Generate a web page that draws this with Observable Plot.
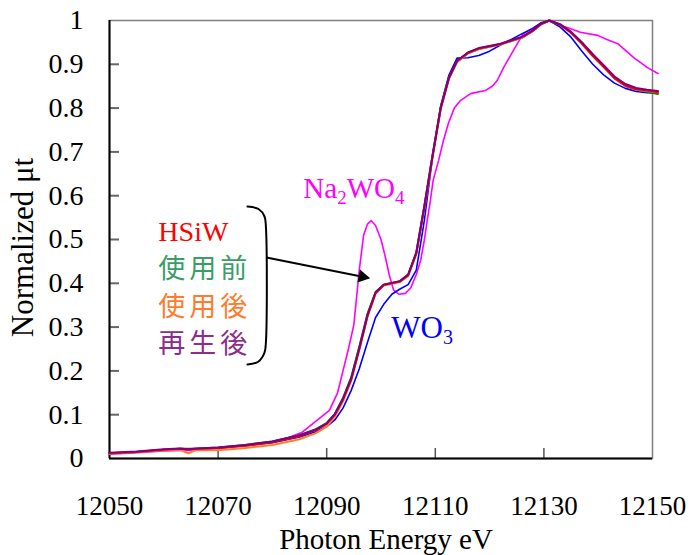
<!DOCTYPE html>
<html><head><meta charset="utf-8">
<script src="https://cdn.jsdelivr.net/npm/d3@7"></script>
<script src="https://cdn.jsdelivr.net/npm/@observablehq/plot@0.6"></script>
<style>
body{margin:0;background:#fff;}
</style></head><body><div id="chart"></div>
<script>
// Shared energy grid (eV) for the four HSiW samples and WO3
const energy = [12050,12055,12060,12063,12064.5,12066,12070,12075,12080,12085,12088,12090,12091.5,12093,12094.5,12096,12097.5,12099,12100.5,12102,12103.5,12105,12106.5,12108,12109.5,12111,12112.5,12114,12116,12118,12120,12122,12124,12126,12128,12129.5,12131,12133,12135,12137,12139,12141,12143,12145,12147,12149,12151];
const hsiw   = [.012,.015,.02,.022,.021,.022,.024,.029,.037,.051,.065,.079,.1,.135,.18,.25,.325,.378,.396,.4,.404,.418,.468,.575,.69,.8,.868,.907,.926,.936,.941,.946,.954,.962,.977,.992,1.0,.99,.972,.947,.919,.894,.868,.851,.843,.84,.836];
const before = [.012,.015,.02,.022,.022,.022,.025,.031,.039,.053,.067,.081,.102,.138,.185,.255,.33,.38,.397,.401,.405,.42,.47,.578,.693,.802,.869,.906,.925,.935,.94,.946,.953,.961,.976,.992,1.0,.991,.974,.95,.922,.896,.869,.851,.842,.837,.832];
const after  = [.011,.014,.018,.02,.012,.019,.019,.024,.031,.044,.058,.073,.095,.13,.177,.247,.323,.376,.395,.399,.403,.417,.466,.572,.687,.797,.866,.905,.925,.935,.94,.945,.953,.961,.976,.991,1.0,.99,.972,.948,.92,.895,.868,.852,.842,.839,.836];
const regen  = [.013,.016,.021,.023,.021,.023,.025,.031,.039,.053,.066,.08,.101,.136,.182,.252,.327,.379,.397,.401,.405,.42,.47,.577,.692,.801,.869,.908,.927,.937,.942,.947,.955,.963,.978,.993,1.0,.991,.974,.95,.923,.898,.872,.855,.846,.842,.839];
const wo3    = [.012,.015,.019,.021,.021,.021,.024,.029,.036,.049,.061,.073,.088,.115,.155,.205,.265,.322,.352,.375,.387,.397,.43,.545,.69,.805,.875,.914,.915,.92,.93,.944,.957,.97,.982,.995,1.0,.985,.962,.93,.9,.876,.857,.845,.838,.835,.834];
// Na2WO4 reference
const naEnergy = [12050,12055,12060,12065,12070,12075,12080,12083,12085.5,12087.5,12089,12090.5,12092,12093,12094,12095,12096,12096.8,12097.5,12098.2,12099,12100,12100.8,12101.5,12102.3,12103.3,12104.5,12105.5,12106.5,12107.3,12108,12108.5,12109.1,12109.6,12110.6,12111.5,12112.4,12113.5,12114.6,12116.5,12119.2,12120.5,12121.4,12122.6,12124.4,12126.2,12128.8,12130.8,12132.5,12134.3,12136.7,12139.9,12141.5,12143.6,12146.5,12149,12151];
const na2wo4   = [.01,.013,.017,.019,.023,.03,.039,.048,.06,.08,.095,.11,.15,.2,.25,.305,.43,.51,.535,.543,.532,.5,.46,.42,.385,.375,.377,.39,.42,.452,.5,.543,.589,.635,.68,.726,.765,.8,.817,.833,.84,.85,.863,.893,.932,.97,.989,1.0,.99,.984,.973,.966,.957,.947,.916,.893,.879];

const xTicks = [12050,12070,12090,12110,12130,12150];
const yTicks = [0,0.1,0.2,0.3,0.4,0.5,0.6,0.7,0.8,0.9,1];
const yTickLabels = ["0","0.1","0.2","0.3","0.4","0.5","0.6","0.7","0.8","0.9","1"];

const seriesNames  = ["Na2WO4","WO3","使用前","使用後","HSiW","再生後"];
const seriesColors = ["#ff00ff","#0000ff","#008000","#ff7f27","#ff0000","#800080"];

const legendNames  = ["HSiW","使用前","使用後","再生後"];
const legendColors = ["#ff0000","#3a9d68","#ff7b2e","#8b2d8b"];
const legendYs     = [0.518,0.4315,0.346,0.261];
const legendX      = 12059.0;

const bracketX = [12075.41,12077.44,12078.55,12078.82,12078.82,12078.55,12077.44,12075.41];
const bracketY = [0.5753,0.5696,0.5525,0.5251,0.2694,0.2420,0.2215,0.2146];
const arrowFrom = [12078.9,0.459];
const arrowTip  = [12096.6,0.415];

const labelNa  = {text:"Na2WO4", x:12085.7, y:0.615, color:"#ff00ff"};
const labelWO3 = {text:"WO3", x:12101.9, y:0.2975, color:"#0000ff"};

const seriesValues = {"Na2WO4":[naEnergy,na2wo4],"WO3":[energy,wo3],"使用前":[energy,before],"使用後":[energy,after],"HSiW":[energy,hsiw],"再生後":[energy,regen]};

const lineMarks = seriesNames.map((name,i)=>{
  const [xs,ys] = seriesValues[name];
  const rows = xs.map((x,j)=>({x, y: ys[j]}));
  const w = (name==="Na2WO4"||name==="WO3") ? 1.6 : 2;
  return Plot.line(rows,{x:"x",y:"y",stroke:seriesColors[i],strokeWidth:w});
});

const bracketRows = bracketX.map((x,i)=>({x,y:bracketY[i]}));
const legendRows = legendNames.map((n,i)=>({n,c:legendColors[i],y:legendYs[i]}));
const serif = "Liberation Serif";

const chart = Plot.plot({
  width:691, height:555,
  marginLeft:109, marginRight:39, marginTop:20, marginBottom:97,
  x:{domain:[12050,12150]},
  y:{domain:[0,1]},
  style:{background:"#fff", color:"#000", fontFamily:serif},
  marks:[
    Plot.tickY(yTicks.slice(1,-1),{y:d=>d, stroke:"#666", strokeWidth:2, insetRight:533}),
    Plot.tickX(xTicks.slice(1,-1),{x:d=>d, stroke:"#555", strokeWidth:1.5, insetTop:428}),
    Plot.frame({stroke:"#808080", strokeWidth:1.5}),
    Plot.ruleX([12050],{stroke:"#000", strokeWidth:2}),
    Plot.ruleY([0],{stroke:"#000", strokeWidth:2}),
    ...lineMarks,
    Plot.axisX({ticks:xTicks, tickSize:0, tickPadding:37, fontSize:27, label:null, tickFormat:d=>String(d), fontFamily:serif}),
    Plot.axisY({ticks:yTicks, tickSize:0, tickPadding:26, fontSize:28, label:null, tickFormat:(d)=>yTickLabels[yTicks.indexOf(d)], fontFamily:serif}),
    Plot.text(["Photon Energy eV"],{text:d=>d, frameAnchor:"bottom", dx:5, dy:90, fontSize:29, textAnchor:"middle", fontFamily:serif}),
    Plot.text(["Normalized μt"],{text:d=>d, frameAnchor:"left", rotate:-90, dx:-86, dy:8, fontSize:31, textAnchor:"middle", fontFamily:serif}),
    Plot.line(bracketRows,{x:"x",y:"y",stroke:"#000",strokeWidth:2,curve:"catmull-rom"}),
    Plot.link([{x1:arrowFrom[0],y1:arrowFrom[1],x2:arrowTip[0],y2:arrowTip[1]}],{x1:"x1",y1:"y1",x2:"x2",y2:"y2",stroke:"#000",strokeWidth:2}),
    Plot.dot([{x:arrowTip[0],y:arrowTip[1]}],{x:"x",y:"y",symbol:"triangle",r:5,fill:"#000",stroke:null,rotate:101}),
    Plot.text(legendRows.slice(0,1),{x:()=>legendX,y:"y",text:"n",fill:"c",fontSize:28,textAnchor:"start", fontFamily:serif}),
    Plot.text(legendRows.slice(1),{x:()=>legendX,y:"y",text:"n",fill:"c",fontSize:27,textAnchor:"start", fontFamily:"Noto Sans CJK JP"}),
    Plot.text([labelNa],{x:"x",y:"y",text:"text",fill:"color",fontSize:29,textAnchor:"start", fontFamily:serif}),
    Plot.text([labelWO3],{x:"x",y:"y",text:"text",fill:"color",fontSize:31,textAnchor:"start", fontFamily:serif})
  ]
});
document.getElementById("chart").appendChild(chart);

d3.select(chart).selectAll("text").each(function(){
  const t = this.textContent;
  if (legendNames.slice(1).includes(t)) { this.setAttribute("letter-spacing","4"); return; }
  if (t === "Na2WO4") this.innerHTML = 'Na<tspan font-size="19" dy="6">2</tspan><tspan dy="-6">WO</tspan><tspan font-size="19" dy="6">4</tspan>';
  else if (t === "WO3") this.innerHTML = 'WO<tspan font-size="20" dy="6">3</tspan>';
});
</script></body></html>
